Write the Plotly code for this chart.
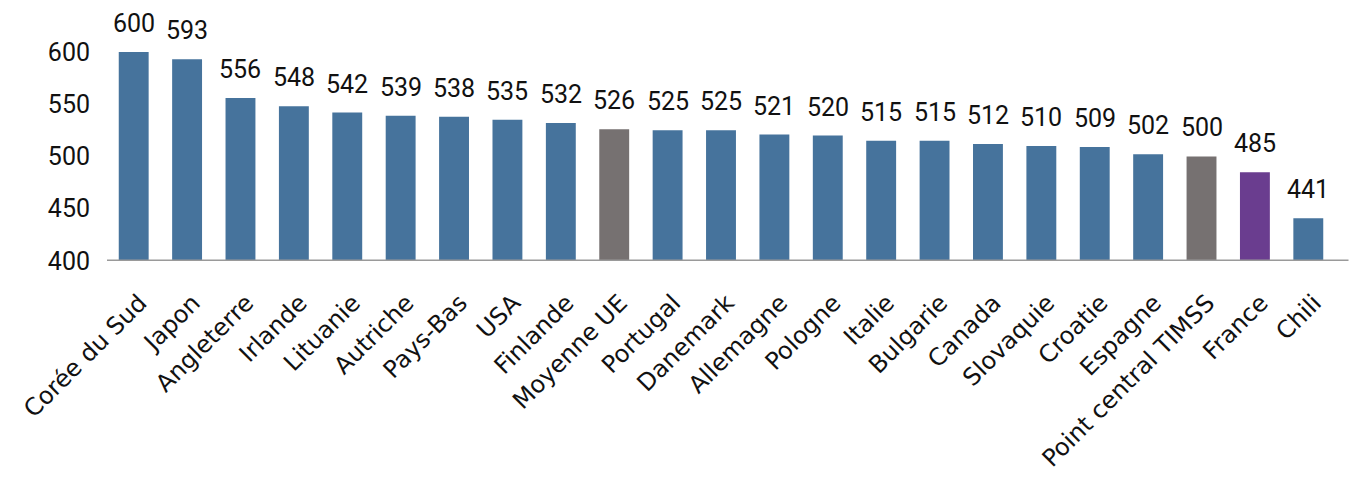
import plotly.graph_objects as go

categories = ["Corée du Sud", "Japon", "Angleterre", "Irlande", "Lituanie", "Autriche",
              "Pays-Bas", "USA", "Finlande", "Moyenne UE", "Portugal", "Danemark",
              "Allemagne", "Pologne", "Italie", "Bulgarie", "Canada", "Slovaquie",
              "Croatie", "Espagne", "Point central TIMSS", "France", "Chili"]
scores = [600, 593, 556, 548, 542, 539, 538, 535, 532, 526, 525, 525, 521, 520,
          515, 515, 512, 510, 509, 502, 500, 485, 441]
y_ticks = [400, 450, 500, 550, 600]

BLUE = "#46739c"
GREY = "#767171"
PURPLE = "#6a3d8f"
special = {"Moyenne UE": GREY, "Point central TIMSS": GREY, "France": PURPLE}
colors = [special.get(c, BLUE) for c in categories]

fig = go.Figure(go.Bar(
    x=categories,
    y=[s - 400 for s in scores],
    base=400,
    marker=dict(color=colors, line=dict(width=0)),
    cliponaxis=False,
))

annotations = [
    dict(x=c, y=s, xref="x", yref="y", text=str(s), showarrow=False,
         yanchor="bottom", yshift=12,
         font=dict(family="Roboto", size=25, color="#111111"))
    for c, s in zip(categories, scores)
]

fig.update_layout(
    width=1354, height=477,
    margin=dict(l=107, r=19, t=31, b=216, autoexpand=False),
    paper_bgcolor="white", plot_bgcolor="white",
    bargap=0.44,
    showlegend=False,
    annotations=annotations,
    xaxis=dict(
        automargin=False,
        tickangle=-45,
        tickfont=dict(family="DejaVu Sans", size=24, color="#111111"),
        showline=False, showgrid=False, ticks="",
        range=[-0.5, 22.5],
        ticklabelstandoff=22,
        ticklabelshift=6,
    ),
    yaxis=dict(
        automargin=False,
        range=[400, 620],
        tickvals=y_ticks,
        ticktext=[str(v) for v in y_ticks],
        tickfont=dict(family="Roboto", size=25, color="#111111"),
        showgrid=False, zeroline=False, showline=False,
        ticks="outside", ticklen=11, tickcolor="rgba(0,0,0,0)",
    ),
    shapes=[dict(type="line", xref="paper", yref="y", x0=0, x1=1.011, y0=400, y1=400,
                 line=dict(color="#9a9a9a", width=3))],
)

fig.write_html("out.html")
